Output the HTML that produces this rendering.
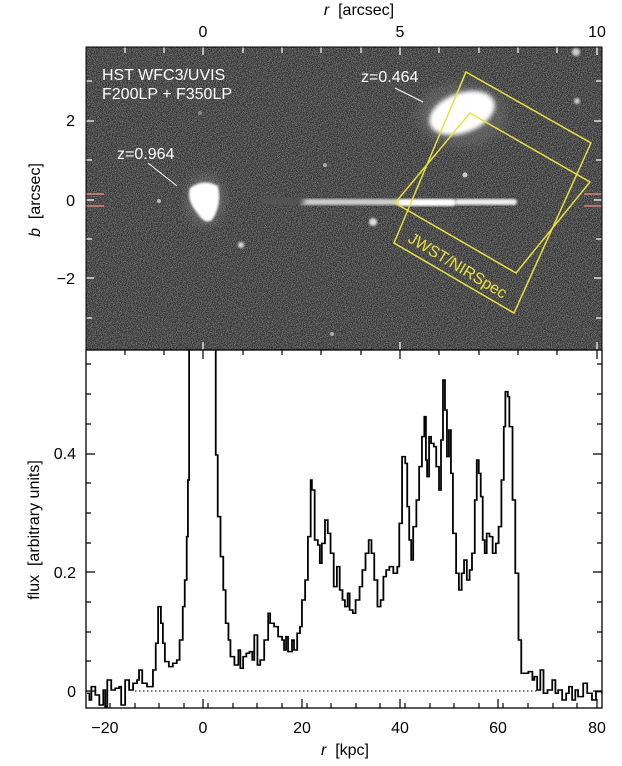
<!DOCTYPE html>
<html><head><meta charset="utf-8"><style>
html,body{margin:0;padding:0;background:#fff;}
svg{display:block;font-family:"Liberation Sans",sans-serif;}
</style></head><body>
<svg width="622" height="766" viewBox="0 0 622 766" xmlns="http://www.w3.org/2000/svg">
<defs>
<filter id="noise" x="0" y="0" width="100%" height="100%">
<feTurbulence type="fractalNoise" baseFrequency="1.2" numOctaves="2" seed="3" result="t"/>
<feColorMatrix type="matrix" values="0 0 0 0 0.55  0 0 0 0 0.55  0 0 0 0 0.55  1.4 0 0 0 -0.45"/>
</filter>
<filter id="blur2"><feGaussianBlur stdDeviation="2"/></filter>
<filter id="blur4"><feGaussianBlur stdDeviation="5"/></filter>
<filter id="blur1"><feGaussianBlur stdDeviation="1"/></filter>
<clipPath id="topc"><rect x="86" y="47" width="516" height="303"/></clipPath>
<clipPath id="botc"><rect x="86" y="350" width="516" height="358"/></clipPath>
</defs>

<g clip-path="url(#topc)">
<rect x="86" y="47" width="516" height="303" fill="#262626"/>
<rect x="86" y="47" width="516" height="303" fill="#000" filter="url(#noise)"/>
<ellipse cx="462" cy="115" rx="45" ry="32" fill="#777" filter="url(#blur4)" opacity="0.45"/>
<ellipse cx="462" cy="113" rx="34" ry="20" transform="rotate(-20 462 113)" fill="#fff" filter="url(#blur2)"/>
<ellipse cx="205" cy="200" rx="20" ry="26" fill="#888" filter="url(#blur4)" opacity="0.4"/>
<path d="M190 188 Q203 178 218 186 Q222 205 212 220 Q205 225 198 214 Q186 200 190 188Z" fill="#fff" filter="url(#blur1)"/>
<rect x="300" y="199" width="100" height="6" rx="3" fill="#ccc" filter="url(#blur1)"/>
<rect x="398" y="199" width="58" height="7" rx="3" fill="#fff" filter="url(#blur1)"/>
<rect x="455" y="199" width="62" height="6" rx="3" fill="#eee" filter="url(#blur1)"/>
<rect x="260" y="198" width="45" height="6" rx="3" fill="#555" filter="url(#blur2)"/>
<circle cx="373" cy="222" r="4" fill="#ddd" filter="url(#blur1)"/>
<circle cx="241" cy="245" r="3" fill="#ddd" filter="url(#blur1)"/>
<circle cx="159" cy="201" r="2" fill="#bbb"/>
<circle cx="465" cy="175" r="2.5" fill="#ccc"/>
<circle cx="577" cy="101" r="3" fill="#ccc" filter="url(#blur1)"/>
<circle cx="576" cy="52" r="4" fill="#ccc" filter="url(#blur1)"/>
<circle cx="325" cy="165" r="2" fill="#aaa"/>
<circle cx="332" cy="334" r="2" fill="#aaa"/>
<circle cx="200" cy="113" r="2" fill="#888"/>
<g stroke="#ddd" stroke-width="1.5">
<path d="M125 47v6M164 47v6M203 47v8M243 47v6M282 47v6M321 47v6M361 47v6M400 47v8M439 47v6M479 47v6M518 47v6M557 47v6M597 47v8"/>
<path d="M86 81h6M86 121h8M86 160h6M86 200h8M86 239h6M86 278h8M86 318h6"/>
<path d="M602 81h-6M602 121h-8M602 160h-6M602 200h-8M602 239h-6M602 278h-8M602 318h-6"/>
<path d="M203 350v-8M400 350v-8M597 350v-8"/>
</g>
<g stroke="#e08080" stroke-width="1.5">
<path d="M86 194h18M86 206h18M602 194h-18M602 206h-18"/>
</g>
<g fill="#fff" font-size="16">
<text x="102" y="80">HST WFC3/UVIS</text>
<text x="102" y="99">F200LP + F350LP</text>
<text x="361" y="82">z=0.464</text>
<text x="117" y="159">z=0.964</text>
</g>
<path d="M395 88L423 102M148 163L177 186" stroke="#fff" stroke-width="1"/>
<g fill="none" stroke="#e8e040" stroke-width="1.5">
<polygon points="466,72 591,143 514,313 394,243"/>
<polygon points="470,113 590,182 516,273 395,203"/>
</g>
<text x="458" y="271" fill="#e8e040" font-size="16" text-anchor="middle" transform="rotate(31 458 265)">JWST/NIRSpec</text>
</g>
<rect x="86" y="47" width="516" height="303" fill="none" stroke="#000" stroke-width="1"/>

<g font-size="16" fill="#000" text-anchor="middle">
<text x="203" y="37">0</text><text x="400" y="37">5</text><text x="597" y="37">10</text>
<text x="359" y="15"><tspan font-style="italic">r</tspan>&#160;&#160;[arcsec]</text>
</g>
<g font-size="16" fill="#000" text-anchor="end">
<text x="75" y="126">2</text><text x="75" y="206">0</text><text x="75" y="284">−2</text>
</g>
<text transform="translate(40 200) rotate(-90)" font-size="16" text-anchor="middle"><tspan font-style="italic">b</tspan>&#160;&#160;[arcsec]</text>

<rect x="86" y="350" width="516" height="358" fill="#fff" stroke="#000" stroke-width="1.3"/>
<g stroke="#000" stroke-width="1.2">
<path d="M125 350v5M164 350v5M203 350v9M243 350v5M282 350v5M321 350v5M361 350v5M400 350v9M439 350v5M479 350v5M518 350v5M557 350v5M597 350v9"/>
<path d="M110 708v-5M135 708v-5M159 708v-5M184 708v-5M208 708v-5M233 708v-5M257 708v-5M282 708v-5M307 708v-5M331 708v-5M356 708v-5M380 708v-5M405 708v-5M430 708v-5M454 708v-5M479 708v-5M503 708v-5M528 708v-5M553 708v-5M577 708v-5"/>
<path d="M105 708v-9M203 708v-9M302 708v-9M400 708v-9M498 708v-9M597 708v-9"/>
<path d="M86 364h5M86 394h5M86 424h5M86 483h5M86 513h5M86 543h5M86 602h5M86 632h5M86 661h5"/>
<path d="M86 454h9M86 572h9M86 691h9"/>
<path d="M602 364h-5M602 394h-5M602 424h-5M602 483h-5M602 513h-5M602 543h-5M602 602h-5M602 632h-5M602 661h-5"/>
<path d="M602 454h-9M602 572h-9M602 691h-9"/>
</g>
<path d="M135 691H538" stroke="#000" stroke-width="1" stroke-dasharray="1.5 2.5"/>
<g clip-path="url(#botc)">
<g transform="translate(0 340) scale(0.3973 0.3333)">
<path id="curve" fill="none" stroke="#000" stroke-width="4.5" d=""/>
</g>
</g>
<g font-size="16" fill="#000" text-anchor="middle">
<text x="105" y="733">−20</text><text x="203" y="733">0</text><text x="302" y="733">20</text><text x="400" y="733">40</text><text x="498" y="733">60</text><text x="597" y="733">80</text>
<text x="345" y="755"><tspan font-style="italic">r</tspan>&#160;&#160;[kpc]</text>
</g>
<g font-size="16" fill="#000" text-anchor="end">
<text x="76" y="459">0.4</text><text x="76" y="578">0.2</text><text x="76" y="697">0</text>
</g>
<text transform="translate(39 530) rotate(-90)" font-size="16" text-anchor="middle">flux&#160;&#160;[arbitrary units]</text>
</svg>
<script>
var p=[219,1060,225,1080,230,1040,240,1065,250,1095,260,1050,265,1100,270,1020,280,1050,290,1045,300,1040,305,1095,315,1020,325,1050,335,1030,345,1020,350,990,358,1030,370,1040,378,1040,385,990,392,910,398,800,405,850,410,910,415,965,425,980,435,970,445,960,452,900,460,800,465,720,470,590,473,420,476,-100,543,345,548,530,555,650,562,750,568,850,575,900,580,950,590,975,600,930,605,985,612,950,620,940,628,935,635,960,640,885,648,975,655,960,665,900,675,820,680,850,690,860,700,890,710,900,715,930,720,890,725,935,735,900,740,930,748,880,755,860,760,780,768,720,775,590,782,420,785,450,792,600,800,615,805,670,810,610,818,540,825,580,832,640,840,740,848,680,855,750,862,780,868,800,875,760,880,810,888,820,895,780,905,740,912,690,920,640,928,600,935,640,942,720,950,800,958,780,965,710,972,690,980,680,990,700,1000,680,1005,550,1012,350,1020,370,1025,500,1030,600,1035,660,1040,560,1048,480,1055,380,1062,290,1068,230,1072,360,1075,410,1080,290,1085,310,1092,320,1098,380,1105,450,1110,300,1115,120,1120,210,1125,350,1130,270,1135,400,1140,580,1148,700,1155,750,1162,700,1168,660,1175,720,1182,690,1188,640,1195,480,1200,360,1205,400,1210,470,1215,600,1220,640,1225,580,1232,590,1240,640,1248,610,1255,560,1262,420,1268,260,1272,155,1278,170,1282,260,1290,480,1297,700,1305,900,1312,1000,1320,1000,1330,995,1340,1020,1345,1010,1352,1050,1360,990,1368,1060,1378,1050,1390,1020,1398,1060,1405,1050,1415,1080,1425,1060,1432,1040,1440,1080,1448,1050,1455,1070,1468,1030,1478,1060,1490,1080,1500,1055,1515,1060];
var d="M"+p[0]+" "+p[1];
for(var i=2;i<p.length;i+=2){d+=" H"+p[i]+" V"+p[i+1];}
document.getElementById("curve").setAttribute("d",d);
</script>
</body></html>
